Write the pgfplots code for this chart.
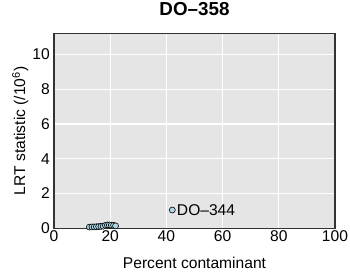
\documentclass[border=0pt]{standalone}
\usepackage{pgfplots}
\pgfplotsset{compat=1.18}
\usepackage{fontspec}
\setmainfont{Liberation Sans}
\definecolor{panel}{HTML}{E5E5E5}
\definecolor{ptfill}{HTML}{ADD8E6}
\definecolor{frame}{HTML}{333333}
\begin{document}
\begin{tikzpicture}
\begin{axis}[
  at={(0,0)}, anchor=south west,
  scale only axis,
  width=281pt, height=194.8pt,
  xmin=0, xmax=100, ymin=0, ymax=11.2,
  xtick={0,20,40,60,80,100},
  ytick={0,2,4,6,8,10},
  axis background/.style={fill=panel},
  grid=major,
  major grid style={white, line width=1.2pt},
  axis line style={frame, line width=1.6pt},
  major tick length=0pt,
  xtick pos=bottom, ytick pos=left,
  ticklabel style={font=\fontsize{15.6}{18}\selectfont},
  xticklabel style={anchor=base, yshift=-13pt},
  yticklabel style={anchor=east, inner sep=0pt, xshift=-4pt},
  /pgf/number format/assume math mode=true,
  title={\bfseries\fontsize{18.8}{22}\selectfont DO–358},
  title style={at={(axis description cs:0.5,1)}, anchor=base, yshift=11.8pt},
  xlabel={\fontsize{15.6}{18}\selectfont Percent contaminant},
  xlabel style={at={(axis description cs:0.5,0)}, anchor=base, yshift=-40.2pt},
  ylabel={\fontsize{15.6}{18}\selectfont LRT statistic (/10\textsuperscript{6})},
  ylabel style={at={(axis description cs:-0.1032,0.5)}, anchor=base, inner sep=0pt},
]
\addplot[only marks, mark=*, mark size=3pt, mark options={fill=ptfill, draw=black, line width=0.6pt}]
coordinates {
(12.6,0.07) (13.5,0.08) (14.3,0.08) (15.1,0.09) (15.9,0.10) (16.7,0.11)
(17.5,0.12) (18.3,0.17) (19.0,0.19) (19.7,0.19) (20.4,0.18) (21.2,0.17) (21.9,0.14)
(42.1,1.05)
};
\node[anchor=west, font=\fontsize{15.6}{18}\selectfont, inner sep=0pt] at (axis cs:43.7,1.05) {DO–344};
\end{axis}
\pgfresetboundingbox
\useasboundingbox (-54pt,-42.7pt) rectangle (296pt,228.3pt);
\end{tikzpicture}
\end{document}
